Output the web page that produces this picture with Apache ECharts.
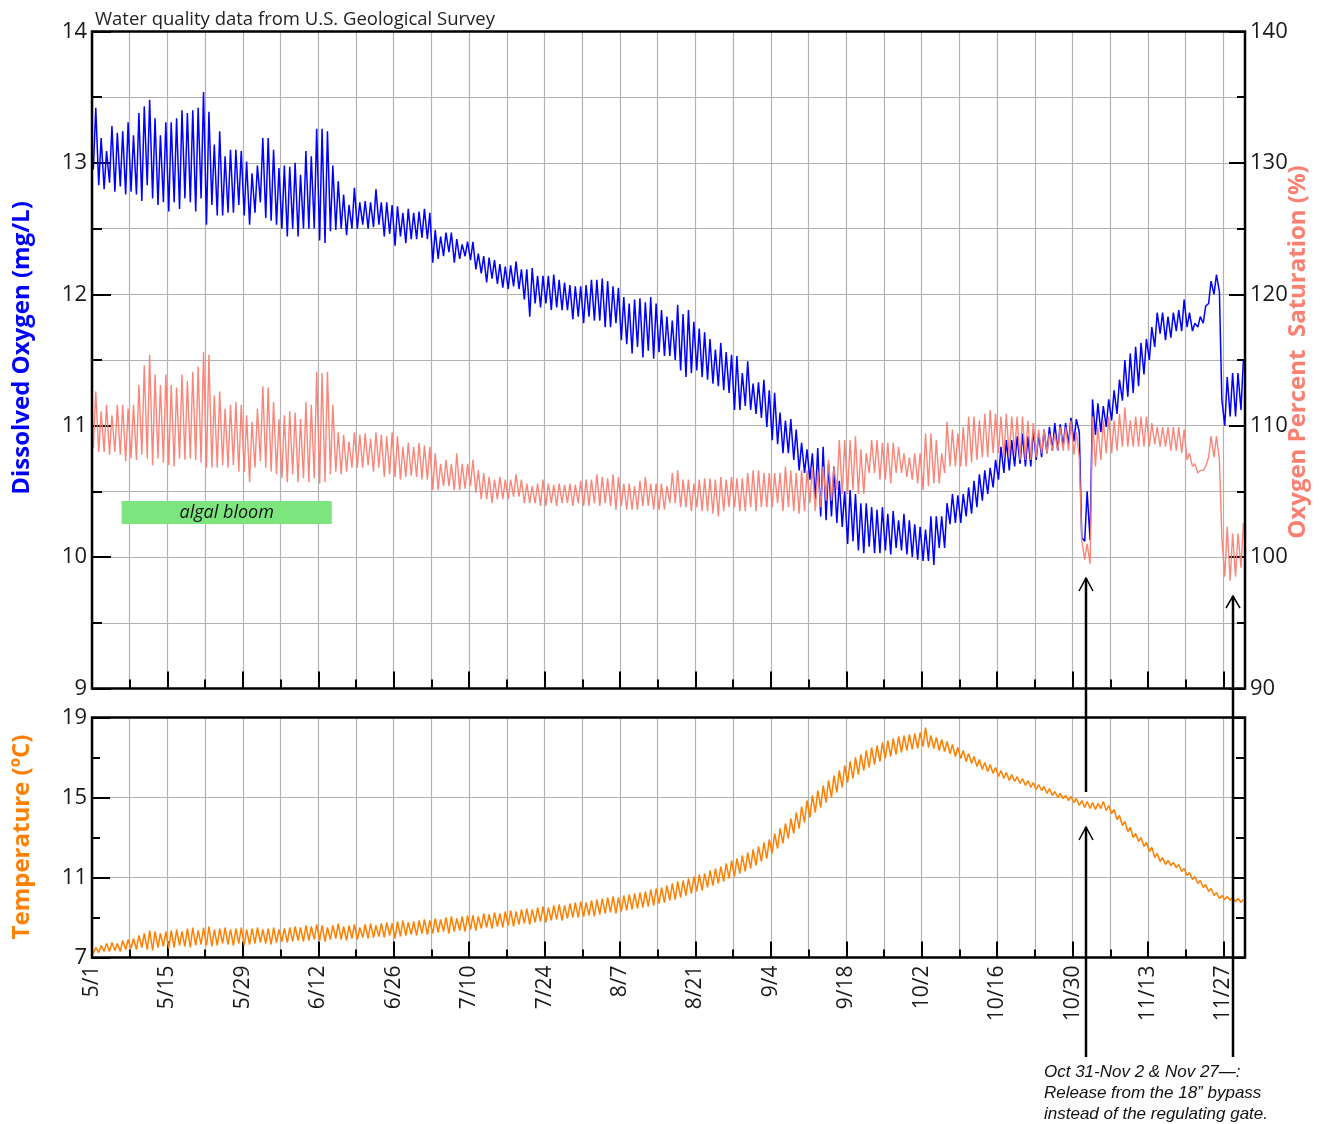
<!DOCTYPE html>
<html>
<head>
<meta charset="utf-8">
<title>Water quality</title>
<script src="https://cdn.jsdelivr.net/npm/echarts@6/dist/echarts.min.js"></script>
<style>
  html, body { margin: 0; padding: 0; background: #fff; }
  #chart { width: 1324px; height: 1124px; }
</style>
</head>
<body>
<div id="chart"></div>
<script>
// tick labels on the day axis (one every 14 days from 5/1)
const dateLabels = ['5/1', '5/15', '5/29', '6/12', '6/26', '7/10', '7/24', '8/7',
  '8/21', '9/4', '9/18', '10/2', '10/16', '10/30', '11/13', '11/27'];

// dissolved oxygen (mg/L), one morning and one afternoon reading per day, 5/1 .. 11/30
const doAm = [
  12.95,12.83,12.80,12.85,12.78,12.82,12.76,12.78,12.76,12.71,
  12.83,12.73,12.68,12.70,12.63,12.70,12.65,12.73,12.70,12.63,
  12.73,12.53,12.68,12.60,12.60,12.62,12.62,12.68,12.60,12.53,
  12.62,12.70,12.58,12.56,12.53,12.50,12.44,12.50,12.44,12.50,
  12.50,12.50,12.41,12.39,12.48,12.49,12.50,12.45,12.50,12.50,
  12.53,12.50,12.51,12.53,12.44,12.46,12.37,12.44,12.39,12.42,
  12.42,12.43,12.42,12.24,12.27,12.29,12.32,12.24,12.27,12.29,
  12.26,12.19,12.16,12.09,12.12,12.08,12.05,12.04,12.06,12.04,
  11.96,11.83,11.93,11.90,11.93,11.88,11.90,11.88,11.88,11.81,
  11.83,11.78,11.83,11.80,11.80,11.75,11.75,11.78,11.65,11.62,
  11.55,11.60,11.52,11.57,11.51,11.56,11.53,11.53,11.50,11.42,
  11.37,11.40,11.42,11.37,11.35,11.32,11.30,11.27,11.25,11.12,
  11.12,11.15,11.12,11.09,11.06,10.99,10.89,10.86,10.79,10.79,
  10.74,10.66,10.64,10.59,10.44,10.31,10.28,10.31,10.26,10.23,
  10.10,10.12,10.05,10.03,10.08,10.03,10.03,10.05,10.02,10.07,
  10.05,10.02,10.00,9.98,9.97,9.97,9.94,10.07,10.07,10.25,
  10.26,10.26,10.31,10.33,10.38,10.43,10.48,10.53,10.59,10.64,
  10.66,10.69,10.71,10.69,10.69,10.74,10.76,10.79,10.81,10.81,
  10.84,10.86,10.88,10.95,10.12,10.13,10.93,10.95,10.99,11.04,
  11.09,11.19,11.22,11.25,11.30,11.39,11.50,11.60,11.70,11.65,
  11.67,11.72,11.72,11.75,11.72,11.75,11.78,11.93,12.00,12.02,
  11.00,11.07,11.07,11.12
];
const doPm = [
  13.42,13.19,13.09,13.28,13.23,13.24,13.31,13.21,13.38,13.43,
  13.48,13.34,13.21,13.31,13.31,13.34,13.40,13.38,13.40,13.42,
  13.54,13.39,13.14,13.24,13.05,13.10,13.10,13.09,13.01,12.92,
  12.98,13.19,13.19,13.10,12.96,12.98,12.97,13.00,12.91,13.09,
  13.05,13.26,13.26,13.24,12.98,12.86,12.76,12.68,12.81,12.70,
  12.71,12.70,12.80,12.70,12.70,12.68,12.67,12.62,12.65,12.62,
  12.63,12.65,12.62,12.49,12.44,12.47,12.47,12.42,12.38,12.40,
  12.40,12.31,12.29,12.28,12.26,12.23,12.21,12.22,12.25,12.19,
  12.19,12.20,12.14,12.14,12.14,12.15,12.11,12.09,12.07,12.06,
  12.06,12.07,12.11,12.11,12.12,12.10,12.06,12.05,11.98,11.93,
  11.96,11.97,11.94,11.98,11.93,11.88,11.83,11.80,11.92,11.85,
  11.88,11.79,11.74,11.71,11.66,11.58,11.63,11.56,11.54,11.53,
  11.40,11.49,11.32,11.33,11.35,11.27,11.25,11.10,11.04,11.05,
  10.97,10.87,10.82,10.79,10.83,10.84,10.71,10.69,10.58,10.50,
  10.51,10.48,10.41,10.41,10.38,10.36,10.38,10.33,10.35,10.28,
  10.33,10.28,10.25,10.23,10.21,10.31,10.31,10.31,10.41,10.48,
  10.47,10.48,10.53,10.58,10.63,10.66,10.68,10.74,10.84,10.89,
  10.89,10.92,10.94,10.92,10.97,10.94,10.97,10.99,11.02,11.01,
  11.02,11.06,11.05,10.15,10.50,11.20,11.17,11.15,11.20,11.27,
  11.35,11.50,11.55,11.60,11.63,11.66,11.75,11.86,11.86,11.83,
  11.86,11.88,11.96,11.86,11.78,11.83,11.91,12.10,12.15,11.20,
  11.37,11.40,11.40,11.50
];

// oxygen percent saturation (%)
const satAm = [
  108.3,108.0,108.0,107.8,108.0,107.8,107.3,107.5,107.4,107.8,
  107.5,107.0,107.5,107.2,107.0,106.9,107.5,107.4,107.5,107.4,
  107.2,106.8,106.8,106.8,107.0,106.8,107.0,106.5,106.5,105.7,
  106.8,107.3,106.8,106.5,106.3,106.0,105.7,106.3,105.7,106.0,
  105.7,106.0,105.6,105.7,106.3,106.5,106.3,106.5,106.8,106.8,
  106.8,107.0,106.5,106.8,106.1,106.3,106.1,105.9,106.1,106.2,
  106.1,105.9,105.9,105.1,105.1,105.4,105.4,105.1,105.1,105.2,
  105.4,104.9,104.4,104.4,104.1,104.4,104.4,104.4,104.6,104.6,
  104.1,104.1,104.1,103.9,103.9,104.1,103.9,104.1,104.1,103.9,
  104.1,103.9,103.9,104.1,103.9,104.1,103.9,103.6,103.9,103.6,
  103.6,103.6,103.9,103.9,103.6,103.6,103.6,104.1,104.1,103.8,
  103.8,103.5,103.8,103.5,103.5,103.3,103.1,103.5,103.8,103.8,
  103.5,103.5,103.8,103.5,103.8,103.8,103.8,104.1,103.5,103.8,
  103.5,103.3,103.5,104.1,103.5,103.8,104.3,104.3,105.1,104.8,
  104.8,105.1,104.8,104.8,106.4,106.4,105.9,105.9,105.6,106.4,
  106.4,106.1,105.9,105.6,105.1,105.4,105.6,105.6,106.4,106.9,
  106.9,106.9,106.9,107.2,107.4,107.6,107.6,107.9,107.9,107.6,
  107.6,107.9,107.4,107.4,107.4,107.6,107.9,107.9,108.1,108.1,
  108.1,108.1,107.8,107.5,99.8,99.5,106.9,107.4,107.9,107.9,
  108.1,108.4,108.4,108.4,108.4,108.4,108.4,108.6,108.4,108.4,
  108.1,108.1,107.9,107.4,106.9,106.4,106.6,107.6,107.6,107.4,
  98.5,98.2,98.5,99.2
];
const satPm = [
  112.6,111.1,111.6,110.8,111.6,111.6,111.3,111.6,113.1,114.6,
  115.4,113.9,113.1,113.9,113.1,112.9,113.9,113.4,114.1,114.5,
  115.6,115.4,112.3,112.6,111.3,111.6,111.8,111.6,110.8,110.3,
  111.3,113.0,112.9,111.8,110.5,110.8,111.1,111.0,110.5,111.8,
  111.6,114.1,114.0,114.1,111.6,109.5,109.3,108.8,109.5,109.3,
  109.4,109.0,109.5,109.3,109.2,109.5,109.2,108.4,108.7,108.4,
  108.7,108.5,108.4,107.9,107.1,107.4,107.1,107.9,107.1,107.1,
  107.4,106.6,106.4,106.1,105.9,106.1,105.9,105.9,106.3,105.9,
  105.6,105.4,105.6,105.9,105.6,105.5,105.6,105.5,105.6,105.5,
  105.8,105.9,105.9,106.3,106.1,106.0,106.3,106.1,105.6,105.6,
  105.4,105.8,106.1,105.6,105.6,105.6,105.4,106.4,106.6,105.9,
  105.9,105.6,105.9,106.0,106.0,105.9,106.1,105.9,106.1,106.0,
  106.0,106.4,106.6,106.6,106.4,106.4,106.4,106.4,106.9,106.6,
  106.4,106.6,106.6,106.9,106.6,106.9,107.4,106.9,108.9,108.9,
  108.9,109.2,108.2,107.9,108.9,108.9,108.7,108.7,108.7,108.4,
  107.9,107.6,107.9,107.9,109.4,109.4,108.9,107.9,110.3,109.7,
  109.4,109.9,110.7,110.7,110.4,110.9,111.2,110.9,110.7,110.9,
  110.7,110.7,110.7,110.4,110.2,109.7,109.7,109.4,109.4,109.9,
  109.9,110.4,109.5,101.3,101.0,110.7,109.9,110.4,110.7,110.4,
  110.9,111.4,110.4,110.7,110.7,110.7,110.2,109.9,109.9,109.9,
  109.9,109.9,109.7,107.9,107.1,106.6,106.9,109.2,109.2,101.5,
  102.3,101.8,101.8,102.6
];

// water temperature (deg C)
const tempAm = [
  7.20,7.25,7.30,7.30,7.35,7.30,7.40,7.45,7.40,7.50,
  7.40,7.35,7.50,7.55,7.45,7.50,7.60,7.55,7.50,7.60,
  7.65,7.60,7.55,7.60,7.70,7.65,7.60,7.70,7.60,7.65,
  7.70,7.75,7.70,7.65,7.75,7.80,7.75,7.80,7.85,7.80,
  7.85,7.90,7.85,7.80,7.90,7.95,7.90,7.85,7.95,7.90,
  8.00,7.95,8.00,8.05,8.00,8.10,7.95,8.05,8.10,8.15,
  8.10,8.20,8.15,8.20,8.25,8.30,8.20,8.30,8.35,8.30,
  8.40,8.35,8.45,8.50,8.45,8.55,8.50,8.60,8.55,8.65,
  8.70,8.65,8.75,8.80,8.75,8.85,8.90,8.85,8.95,9.00,
  9.00,9.05,9.10,9.05,9.15,9.20,9.25,9.20,9.30,9.35,
  9.40,9.45,9.50,9.55,9.60,9.70,9.75,9.85,9.90,10.00,
  10.10,10.20,10.30,10.35,10.50,10.60,10.70,10.80,10.95,11.05,
  11.20,11.30,11.45,11.60,11.80,11.95,12.20,12.45,12.70,12.95,
  13.20,13.45,13.75,14.00,14.25,14.50,14.75,15.00,15.25,15.50,
  15.75,15.95,16.15,16.35,16.50,16.65,16.80,16.95,17.05,17.15,
  17.25,17.35,17.40,17.45,17.55,17.50,17.45,17.35,17.30,17.20,
  17.05,16.95,16.80,16.70,16.55,16.40,16.30,16.20,16.05,15.95,
  15.85,15.80,15.70,15.60,15.50,15.40,15.35,15.20,15.10,15.00,
  14.95,14.85,14.75,14.60,14.50,14.45,14.40,14.45,14.35,14.20,
  13.90,13.60,13.30,13.00,12.80,12.55,12.30,12.00,11.80,11.65,
  11.60,11.50,11.30,11.10,10.90,10.70,10.50,10.30,10.10,9.95,
  9.90,9.85,9.80,9.75
];
const tempPm = [
  7.50,7.60,7.70,7.75,7.70,7.85,7.90,7.95,8.10,8.20,
  8.35,8.30,8.20,8.30,8.35,8.40,8.30,8.45,8.50,8.35,
  8.50,8.55,8.40,8.45,8.50,8.40,8.45,8.50,8.40,8.45,
  8.50,8.40,8.45,8.50,8.40,8.45,8.50,8.55,8.50,8.60,
  8.55,8.65,8.60,8.50,8.60,8.70,8.55,8.60,8.65,8.50,
  8.65,8.70,8.60,8.70,8.75,8.70,8.80,8.85,8.75,8.80,
  8.85,8.90,8.85,8.95,8.90,9.00,9.05,8.95,9.05,9.10,
  9.10,9.05,9.20,9.15,9.25,9.20,9.30,9.35,9.30,9.40,
  9.45,9.40,9.50,9.55,9.50,9.60,9.65,9.60,9.70,9.75,
  9.80,9.75,9.85,9.90,9.95,10.00,10.05,10.00,10.10,10.15,
  10.20,10.25,10.30,10.40,10.45,10.50,10.60,10.70,10.80,10.85,
  10.95,11.05,11.15,11.20,11.35,11.45,11.55,11.70,11.85,11.95,
  12.10,12.25,12.40,12.55,12.75,12.90,13.20,13.45,13.70,13.95,
  14.25,14.55,14.85,15.10,15.35,15.60,15.85,16.10,16.35,16.60,
  16.80,17.00,17.15,17.35,17.50,17.60,17.75,17.85,17.95,18.05,
  18.10,18.15,18.20,18.25,18.50,18.10,18.00,17.90,17.80,17.65,
  17.50,17.35,17.20,17.05,16.90,16.75,16.65,16.50,16.35,16.25,
  16.15,16.05,15.95,15.85,15.75,15.65,15.55,15.45,15.30,15.20,
  15.10,15.05,14.95,14.85,14.80,14.75,14.70,14.80,14.60,14.40,
  14.10,13.80,13.50,13.20,13.00,12.75,12.50,12.20,12.00,11.85,
  11.75,11.65,11.45,11.25,11.05,10.85,10.65,10.45,10.25,10.10,
  10.05,10.00,9.95,9.90
];

// morning reading early in the day, afternoon reading later
function daily(am, pm) {
  const pts = [];
  for (let d = 0; d < am.length; d++) {
    pts.push([d + 0.25, am[d]]);
    pts.push([d + 0.7, pm[d]]);
  }
  return pts;
}

const font = '"Open Sans", sans-serif';
const gridLine = { color: '#b3b3b3', width: 1.2 };
const tick = (len) => ({ show: true, inside: true, length: len, lineStyle: { color: '#000', width: 2 } });
const minor = (len) => ({ show: true, splitNumber: 2, length: len, lineStyle: { color: '#000', width: 2 } });

const topPanel = { left: 92, right: 79, top: 31.5, height: 657 };
const bottomPanel = { left: 92, right: 79, top: 717.5, height: 240 };

const chart = echarts.init(document.getElementById('chart'));

const option = {
  animation: false,
  textStyle: { fontFamily: font },
  title: {
    text: 'Water quality data from U.S. Geological Survey',
    left: 90, top: 5,
    textStyle: { fontSize: 18.5, fontWeight: 'normal', color: '#222', fontFamily: font }
  },
  grid: [topPanel, bottomPanel, topPanel, bottomPanel],
  xAxis: [
    // weekly grid + short ticks
    { type: 'value', gridIndex: 0, min: 0, max: 214, interval: 7,
      axisLine: { show: false }, axisTick: tick(9), axisLabel: { show: false },
      splitLine: { show: true, lineStyle: gridLine } },
    { type: 'value', gridIndex: 1, min: 0, max: 214, interval: 7,
      axisLine: { show: false }, axisTick: tick(8), axisLabel: { show: false },
      splitLine: { show: true, lineStyle: gridLine } },
    // two-weekly long ticks and date labels
    { type: 'value', gridIndex: 2, min: 0, max: 214, interval: 14,
      axisLine: { show: false }, axisTick: tick(17), axisLabel: { show: false },
      splitLine: { show: false } },
    { type: 'value', gridIndex: 3, min: 0, max: 214, interval: 14,
      axisLine: { show: false }, axisTick: tick(16),
      splitLine: { show: false },
      axisLabel: {
        show: true, rotate: 90, margin: 8, fontSize: 21, color: '#1a1a1a', fontFamily: font,
        showMaxLabel: false,
        formatter: (v) => (v % 14 === 0 && v / 14 < dateLabels.length) ? dateLabels[v / 14] : ''
      } }
  ],
  yAxis: [
    { type: 'value', gridIndex: 0, position: 'left', min: 9, max: 14, interval: 1,
      axisLine: { show: false }, axisTick: tick(19), minorTick: minor(10),
      splitLine: { show: true, lineStyle: gridLine },
      minorSplitLine: { show: true, lineStyle: gridLine },
      axisLabel: { margin: 5, fontSize: 22, color: '#1a1a1a', fontFamily: font } },
    { type: 'value', gridIndex: 0, position: 'right', min: 90, max: 140, interval: 10,
      axisLine: { show: false }, axisTick: tick(16), minorTick: minor(8),
      splitLine: { show: false },
      axisLabel: { margin: 5, fontSize: 22, color: '#1a1a1a', fontFamily: font } },
    { type: 'value', gridIndex: 1, position: 'left', min: 7, max: 19, interval: 4,
      axisLine: { show: false }, axisTick: tick(18), minorTick: minor(8),
      splitLine: { show: true, lineStyle: gridLine },
      axisLabel: { margin: 5, fontSize: 22, color: '#1a1a1a', fontFamily: font } },
    { type: 'value', gridIndex: 1, position: 'right', min: 7, max: 19, interval: 4,
      axisLine: { show: false }, axisTick: tick(12), minorTick: minor(9),
      splitLine: { show: false }, axisLabel: { show: false } },
    { type: 'value', gridIndex: 2, show: false, min: 0, max: 1 },
    { type: 'value', gridIndex: 3, show: false, min: 0, max: 1 }
  ],
  series: [
    {
      name: 'Dissolved Oxygen', type: 'line', xAxisIndex: 0, yAxisIndex: 0,
      data: daily(doAm, doPm), showSymbol: false, symbol: 'none',
      lineStyle: { color: '#0000ff', width: 1.5 },
      markArea: {
        silent: true,
        itemStyle: { color: '#7de57d' },
        label: { show: true, position: 'inside', formatter: 'algal bloom',
          fontStyle: 'italic', fontSize: 18, color: '#111', fontFamily: font },
        data: [[{ coord: [5.5, 10.427] }, { coord: [44.5, 10.252] }]]
      }
    },
    {
      name: 'Oxygen Percent Saturation', type: 'line', xAxisIndex: 0, yAxisIndex: 1,
      data: daily(satAm, satPm), showSymbol: false, symbol: 'none',
      lineStyle: { color: '#fa8072', width: 1.4, opacity: 0.95 }
    },
    {
      name: 'Temperature', type: 'line', xAxisIndex: 1, yAxisIndex: 2,
      data: daily(tempAm, tempPm), showSymbol: false, symbol: 'none',
      lineStyle: { color: '#ff8000', width: 1.5 }
    }
  ],
  graphic: [
    // panel frames
    { type: 'rect', z: 100, silent: true, shape: { x: 92, y: 31.5, width: 1153, height: 657 },
      style: { fill: null, stroke: '#000', lineWidth: 2.5 } },
    { type: 'rect', z: 100, silent: true, shape: { x: 92, y: 717.5, width: 1153, height: 240 },
      style: { fill: null, stroke: '#000', lineWidth: 2.5 } },
    // axis titles
    { type: 'text', z: 100, x: 22, y: 348, rotation: Math.PI / 2,
      style: { text: 'Dissolved Oxygen (mg/L)', fill: '#0000ff', font: 'bold 24px "Open Sans", sans-serif',
        textAlign: 'center', textVerticalAlign: 'middle' } },
    { type: 'text', z: 100, x: 1298, y: 352, rotation: Math.PI / 2,
      style: { text: 'Oxygen Percent  Saturation (%)', fill: '#fa8072', font: 'bold 24px "Open Sans", sans-serif',
        textAlign: 'center', textVerticalAlign: 'middle' } },
    { type: 'text', z: 100, x: 22, y: 837, rotation: Math.PI / 2,
      style: { text: 'Temperature (\u00baC)', fill: '#ff8000', font: 'bold 24px "Open Sans", sans-serif',
        textAlign: 'center', textVerticalAlign: 'middle' } },
    // release arrows
    { type: 'line', z: 101, shape: { x1: 1086, y1: 578, x2: 1086, y2: 792 }, style: { stroke: '#000', lineWidth: 2.5 } },
    { type: 'polyline', z: 101, shape: { points: [[1079, 591], [1086, 578], [1093, 591]] }, style: { stroke: '#000', fill: null, lineWidth: 1.5 } },
    { type: 'line', z: 101, shape: { x1: 1086, y1: 827, x2: 1086, y2: 1057 }, style: { stroke: '#000', lineWidth: 2.5 } },
    { type: 'polyline', z: 101, shape: { points: [[1079, 840], [1086, 827], [1093, 840]] }, style: { stroke: '#000', fill: null, lineWidth: 1.5 } },
    { type: 'line', z: 101, shape: { x1: 1233, y1: 596, x2: 1233, y2: 1057 }, style: { stroke: '#000', lineWidth: 2.5 } },
    { type: 'polyline', z: 101, shape: { points: [[1226, 608], [1233, 596], [1240, 608]] }, style: { stroke: '#000', fill: null, lineWidth: 1.5 } },
    { type: 'text', z: 101, x: 1044, y: 1062,
      style: { text: 'Oct 31-Nov 2 & Nov 27\u2014:\nRelease from the 18\u201d bypass\ninstead of the regulating gate.',
        fill: '#111', font: 'italic 17px "Liberation Sans", Arial, sans-serif', lineHeight: 21,
        textAlign: 'left', textVerticalAlign: 'top' } }
  ]
};

chart.setOption(option);
</script>
</body>
</html>
